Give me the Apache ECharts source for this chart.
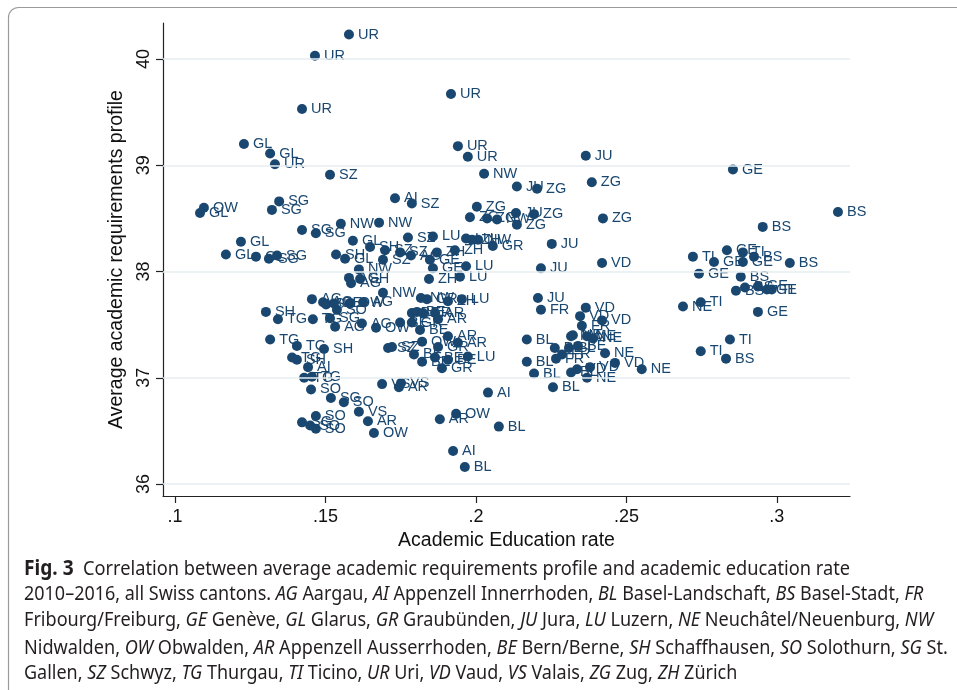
<!DOCTYPE html>
<html>
<head>
<meta charset="utf-8">
<title>Fig. 3</title>
<script src="https://cdn.jsdelivr.net/npm/echarts@6/dist/echarts.min.js"></script>
<style>
    html, body {
        margin: 0;
        padding: 0;
        background: #fff;
    }
    #chart {
        position: absolute;
        left: 0;
        top: 0;
        width: 957px;
        height: 690px;
    }
    .caption {
        position: absolute;
        left: 24px;
        height: 26px;
        line-height: 26px;
        white-space: nowrap;
        font-family: 'Noto Sans', 'Open Sans', sans-serif;
        font-size: 20px;
        color: #231f20;
        transform-origin: 0 50%;
    }
    .caption b {
        font-size: 21px;
    }
</style>
</head>
<body>
<div id="chart"></div>
<div class="caption" data-w="826" style="top:554px"><b>Fig. 3</b>&nbsp;&nbsp;Correlation between average academic requirements profile and academic education rate</div>
<div class="caption" data-w="899" style="top:580px">2010–2016, all Swiss cantons. <i>AG</i> Aargau, <i>AI</i> Appenzell Innerrhoden, <i>BL</i> Basel-Landschaft, <i>BS</i> Basel-Stadt, <i>FR</i></div>
<div class="caption" data-w="909" style="top:606px">Fribourg/Freiburg, <i>GE</i> Genève, <i>GL</i> Glarus, <i>GR</i> Graubünden, <i>JU</i> Jura, <i>LU</i> Luzern, <i>NE</i> Neuchâtel/Neuenburg, <i>NW</i></div>
<div class="caption" data-w="924" style="top:634px">Nidwalden, <i>OW</i> Obwalden, <i>AR</i> Appenzell Ausserrhoden, <i>BE</i> Bern/Berne, <i>SH</i> Schaffhausen, <i>SO</i> Solothurn, <i>SG</i> St.</div>
<div class="caption" data-w="713" style="top:659px">Gallen, <i>SZ</i> Schwyz, <i>TG</i> Thurgau, <i>TI</i> Ticino, <i>UR</i> Uri, <i>VD</i> Vaud, <i>VS</i> Valais, <i>ZG</i> Zug, <i>ZH</i> Zürich</div>

<script>
const cantons = [
    'UR', 'UR', 'UR', 'UR', 'GL', 'UR', 'GL', 'UR', 'JU', 'UR',
    'GE', 'NW', 'SZ', 'ZG', 'JU', 'ZG', 'AI', 'SZ', 'OW', 'GL',
    'SG', 'SG', 'ZG', 'BS', 'ZG', 'ZG', 'NW', 'JU', 'ZG', 'ZG',
    'ZG', 'BS', 'SG', 'SG', 'NW', 'NW', 'SZ', 'LU', 'LU', 'ZH',
    'NW', 'GR', 'JU', 'SH', 'SZ', 'SZ', 'AG', 'ZH', 'ZH', 'SZ',
    'GE', 'GE', 'LU', 'JU', 'VD', 'ZH', 'LU', 'JU', 'FR', 'VD',
    'VD', 'VD', 'FR', 'TI', 'GE', 'GE', 'TI', 'GE', 'BS', 'BS',
    'GE', 'BS', 'BS', 'BS', 'GE', 'GE', 'TI', 'TI', 'NE', 'GE',
    'TI', 'TI', 'BS', 'NE', 'VD', 'BL', 'BL', 'BL', 'BL', 'AI',
    'BL', 'FR', 'NW', 'NE', 'BE', 'BL', 'NE', 'NE', 'NE', 'BL',
    'VD', 'VD', 'NE', 'FR', 'AR', 'OW', 'BL', 'AI', 'BL', 'VS',
    'VS', 'AR', 'TG', 'TG', 'SO', 'SG', 'SO', 'VS', 'AR', 'OW',
    'SO', 'SG', 'SO', 'SO', 'AG', 'AG', 'SO', 'BE', 'SO', 'OW',
    'AG', 'SH', 'TG', 'TG', 'SG', 'AG', 'AG', 'OW', 'TG', 'TG',
    'SH', 'TG', 'SH', 'AI', 'SZ', 'SZ', 'NW', 'NW', 'GR', 'ZH',
    'LU', 'BE', 'BE', 'FR', 'AR', 'AR', 'BE', 'GR', 'BE', 'OW',
    'GR', 'AR', 'AR', 'LU', 'BE', 'BE', 'BE', 'GR', 'BE', 'GL',
    'GL', 'GL', 'SG', 'SG', 'GL', 'SH', 'GL', 'NW', 'AG', 'SH',
    'AG'
];

const educationRate = [
    .1578, .1465, .1917, .1422, .1229, .1940, .1316, .1973, .2365, .1332,
    .2854, .2027, .1515, .2385, .2136, .2203, .1731, .1787, .1096, .1083,
    .1346, .1322, .2003, .3203, .1980, .2037, .2070, .2133, .2193, .2136,
    .2422, .2953, .1422, .1468, .1551, .1678, .1774, .1857, .1967, .1987,
    .2007, .2056, .2252, .1648, .1698, .1748, .1784, .1870, .1930, .1691,
    .1847, .1857, .1967, .2216, .2419, .1844, .1947, .2206, .2216, .2365,
    .2346, .2419, .2352, .2721, .2791, .2834, .2887, .2887, .2924, .3043,
    .2741, .2880, .2864, .2894, .2937, .2967, .2983, .2747, .2688, .2937,
    .2844, .2747, .2831, .2551, .2462, .2169, .2169, .2193, .2256, .2040,
    .2262, .2286, .2316, .2322, .2339, .2309, .2369, .2389, .2429, .2316,
    .2336, .2379, .2369, .2266, .1880, .1934, .2076, .1924, .1963, .1688,
    .1751, .1744, .1429, .1455, .1452, .1518, .1561, .1611, .1641, .1661,
    .1468, .1422, .1449, .1468, .1455, .1492, .1502, .1528, .1538, .1581,
    .1625, .1302, .1342, .1458, .1515, .1532, .1621, .1668, .1316, .1405,
    .1495, .1389, .1405, .1442, .1708, .1721, .1691, .1817, .1837, .1907,
    .1953, .1787, .1804, .1824, .1864, .1874, .1748, .1787, .1814, .1821,
    .1874, .1907, .1940, .1973, .1794, .1821, .1864, .1887, .1907, .1169,
    .1219, .1269, .1312, .1339, .1591, .1535, .1565, .1611, .1578, .1615,
    .1585
];

const requirementsProfile = [
    40.23, 40.03, 39.67, 39.53, 39.20, 39.18, 39.11, 39.08, 39.09, 39.01,
    38.96, 38.92, 38.91, 38.84, 38.80, 38.78, 38.69, 38.64, 38.60, 38.55,
    38.66, 38.58, 38.61, 38.56, 38.51, 38.50, 38.49, 38.55, 38.54, 38.44,
    38.50, 38.42, 38.39, 38.36, 38.45, 38.46, 38.32, 38.33, 38.31, 38.30,
    38.30, 38.24, 38.26, 38.23, 38.20, 38.18, 38.15, 38.18, 38.20, 38.11,
    38.11, 38.03, 38.05, 38.03, 38.08, 37.93, 37.95, 37.75, 37.64, 37.66,
    37.58, 37.54, 37.49, 38.14, 38.09, 38.20, 38.18, 38.09, 38.14, 38.08,
    37.98, 37.95, 37.82, 37.85, 37.86, 37.83, 37.83, 37.71, 37.67, 37.62,
    37.36, 37.25, 37.18, 37.08, 37.14, 37.36, 37.15, 37.04, 36.91, 36.86,
    37.28, 37.22, 37.39, 37.40, 37.30, 37.28, 37.39, 37.37, 37.23, 37.05,
    37.08, 37.10, 37.00, 37.18, 36.61, 36.66, 36.54, 36.31, 36.16, 36.94,
    36.95, 36.91, 37.00, 37.01, 36.89, 36.81, 36.77, 36.68, 36.59, 36.48,
    36.64, 36.58, 36.55, 36.52, 37.74, 37.71, 37.69, 37.70, 37.64, 37.70,
    37.71, 37.62, 37.55, 37.55, 37.56, 37.48, 37.51, 37.47, 37.36, 37.30,
    37.27, 37.19, 37.17, 37.10, 37.28, 37.29, 37.80, 37.75, 37.74, 37.72,
    37.74, 37.61, 37.62, 37.61, 37.61, 37.55, 37.52, 37.52, 37.45, 37.34,
    37.29, 37.39, 37.33, 37.20, 37.22, 37.15, 37.19, 37.09, 37.17, 38.16,
    38.28, 38.14, 38.12, 38.15, 38.29, 38.16, 38.12, 38.02, 37.94, 37.93,
    37.89
];

const xTicks = [0.1, 0.15, 0.2, 0.25, 0.3];
const yTicks = [36, 37, 38, 39, 40];

const navy = '#1a476f';
const font = "'Liberation Sans', Arial, Helvetica, sans-serif";

const chart = echarts.init(document.getElementById('chart'));
const points = cantons.map((c, i) => [educationRate[i], requirementsProfile[i], c]);

chart.setOption({
    animation: false,
    graphic: [
        {
            type: 'rect',
            silent: true,
            z: -10,
            shape: { x: 8.5, y: 7.5, width: 1200, height: 900, r: 10 },
            style: { fill: 'none', stroke: '#9a9a9a', lineWidth: 1.2 }
        }
    ],
    grid: {
        left: 163,
        right: 107,
        top: 23,
        bottom: 194
    },
    xAxis: {
        type: 'value',
        min: 0.096,
        max: 0.3243,
        name: 'Academic Education rate',
        nameLocation: 'middle',
        nameGap: 34,
        nameTextStyle: { fontSize: 19.5, color: '#111', fontFamily: font },
        axisLine: { onZero: false, lineStyle: { color: '#222', width: 1.2 } },
        axisTick: { show: true, length: 7, customValues: xTicks, lineStyle: { color: '#222', width: 1.2 } },
        axisLabel: {
            customValues: xTicks,
            margin: 12,
            fontSize: 18,
            color: '#111',
            fontFamily: font,
            formatter: v => String(+(+v).toFixed(2)).replace(/^0/, '')
        },
        splitLine: { show: false }
    },
    yAxis: {
        type: 'value',
        min: 35.887,
        max: 40.339,
        name: 'Average academic requirements profile',
        nameLocation: 'middle',
        nameGap: 29,
        nameTextStyle: { fontSize: 19.5, color: '#111', fontFamily: font },
        axisLine: { onZero: false, lineStyle: { color: '#222', width: 1.2 } },
        axisTick: { show: true, length: 7, customValues: yTicks, lineStyle: { color: '#222', width: 1.2 } },
        axisLabel: {
            customValues: yTicks,
            rotate: 90,
            margin: 10,
            fontSize: 18,
            color: '#111',
            fontFamily: font
        },
        splitLine: { show: false }
    },
    series: [
        {
            type: 'scatter',
            data: [],
            silent: true,
            z: 1,
            markLine: {
                silent: true,
                symbol: 'none',
                label: { show: false },
                lineStyle: { color: '#e6eef1', width: 1.6, type: 'solid' },
                data: yTicks.map(v => ({ yAxis: v }))
            }
        },
        {
            type: 'scatter',
            data: points,
            z: 2,
            symbolSize: 10,
            itemStyle: { color: navy, opacity: 1 },
            label: {
                show: true,
                position: 'right',
                distance: 4,
                formatter: p => p.value[2],
                fontSize: 14.5,
                color: navy,
                fontFamily: font
            }
        }
    ]
});

// fit each caption line to the width it has in the figure
document.querySelectorAll('.caption').forEach(el => {
    const target = +el.dataset.w;
    const w = el.scrollWidth;
    el.style.transform = 'scaleX(' + (target / w).toFixed(4) + ')';
});
</script>
</body>
</html>
